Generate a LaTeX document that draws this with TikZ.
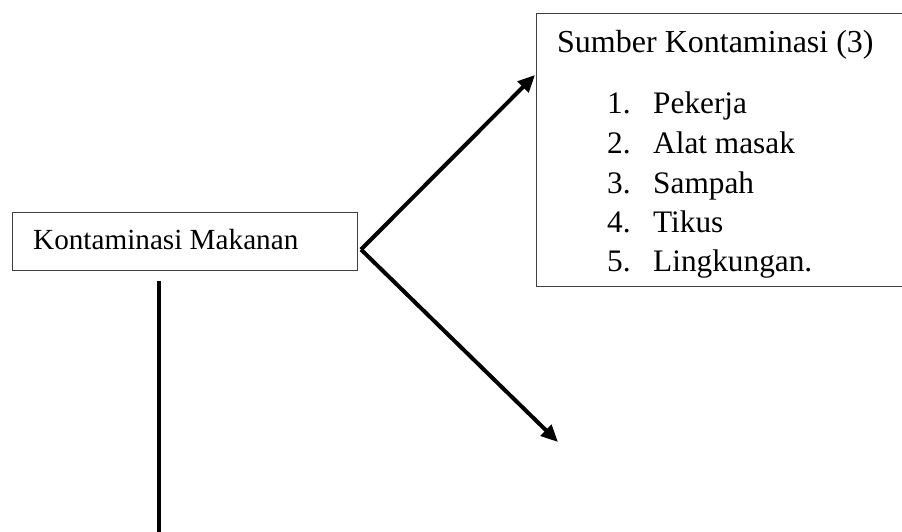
\documentclass[tikz,border=0pt]{standalone}
\usepackage{fontspec}
\setmainfont{Liberation Serif}
\usetikzlibrary{arrows.meta}
\begin{document}
\begin{tikzpicture}[x=1pt,y=-1pt,
  boxstyle/.style={draw=black!75,line width=1pt,rectangle,inner sep=0pt},
  txt/.style={inner sep=0pt,anchor=base west,font=\fontsize{31.3}{36}\selectfont},
  thick arrow/.style={line width=4pt,-{Triangle[length=17pt,width=15pt]}},
  thick line/.style={line width=4pt}]
\useasboundingbox (0,0) rectangle (902,531);
% main box
\node[boxstyle,anchor=north west,minimum width=345pt,minimum height=58pt] (kb) at (12,212) {};
\node[inner sep=0pt,anchor=base west,font=\fontsize{29.2}{34}\selectfont] (kbt) at (33,249) {Kontaminasi Makanan};
% source box
\node[boxstyle,anchor=north west,minimum width=400pt,minimum height=273pt] (src) at (536,13) {};
\node[txt,font=\fontsize{32}{36}\selectfont] (title) at (557,52) {Sumber Kontaminasi (3)};
\node[txt] (n1) at (607,113) {1.};
\node[txt] (i1) at (653,113) {Pekerja};
\node[txt] (n2) at (607,153) {2.};
\node[txt] (i2) at (653,153) {Alat masak};
\node[txt] (n3) at (607,193) {3.};
\node[txt] (i3) at (653,193) {Sampah};
\node[txt] (n4) at (607,232) {4.};
\node[txt] (i4) at (653,232) {Tikus};
\node[txt] (n5) at (607,271) {5.};
\node[txt] (i5) at (653,271) {Lingkungan.};
% connectors
\coordinate (srcin) at (535,75);
\coordinate (lowend) at (558,442);
\coordinate (vtop) at (158.7,281);
\coordinate (vbot) at (158.7,540);
\draw[thick arrow] ([xshift=3pt,yshift=-8pt]kb.east) -- (srcin);
\draw[thick arrow] ([xshift=3pt,yshift=-8pt]kb.east) -- (lowend);
\draw[thick line] (vtop) -- (vbot);
\end{tikzpicture}
\end{document}
